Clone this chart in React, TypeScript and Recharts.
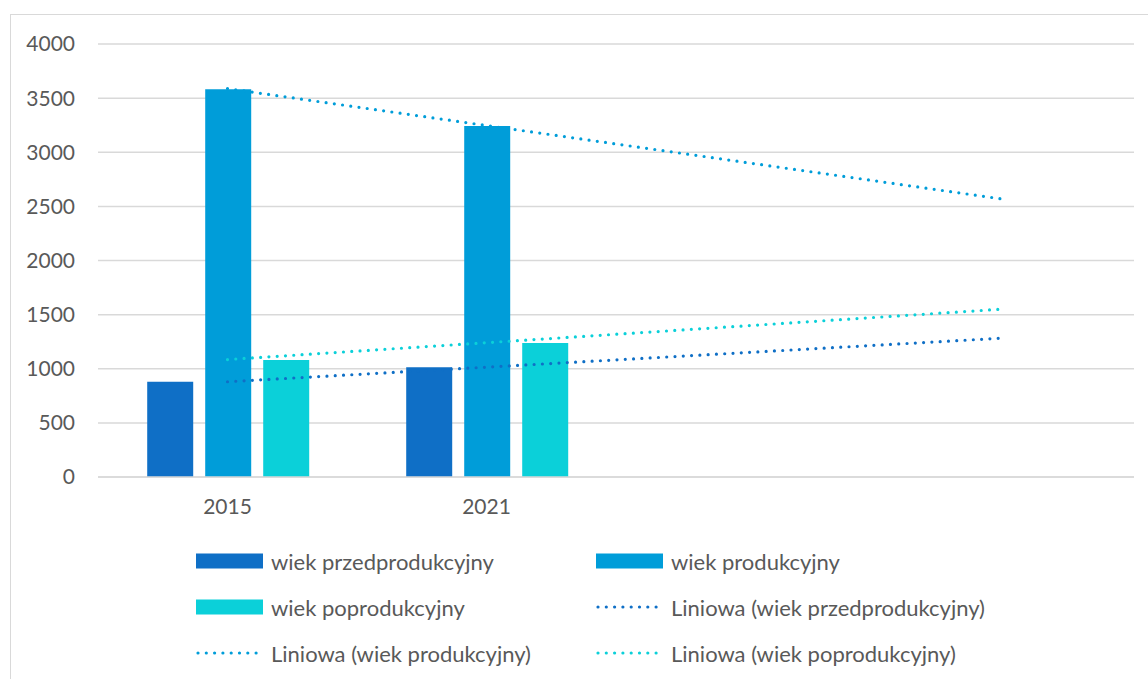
import { Bar, CartesianGrid, ComposedChart, Line, XAxis, YAxis } from "recharts";

// categories (Excel trendline forecast adds two empty periods)
const years = ["2015", "2021", "", ""];

// population by age group
const preProductive = [880, 1013, null, null];
const productive = [3582, 3242, null, null];
const postProductive = [1081, 1238, null, null];

// linear trendlines, read at first and last period
const trendPre = [880, null, null, 1284];
const trendProd = [3588, null, null, 2565];
const trendPost = [1085, null, null, 1552];

const yTicks = [0, 500, 1000, 1500, 2000, 2500, 3000, 3500, 4000];

const C_PRE = "#0F6FC6";
const C_PROD = "#009DD9";
const C_POST = "#0BD0D9";
const TEXT = "#595959";
const GRID = "#D9D9D9";
const FONT = "Lato, 'Open Sans', sans-serif";

const data = years.map((y, i) => ({
	key: `c${i}`,
	year: y,
	pre: preProductive[i],
	prod: productive[i],
	post: postProductive[i],
	tPre: trendPre[i],
	tProd: trendProd[i],
	tPost: trendPost[i],
}));

const legendItems = [
	{ label: "wiek przedprodukcyjny", color: C_PRE, kind: "bar" },
	{ label: "wiek produkcyjny", color: C_PROD, kind: "bar" },
	{ label: "wiek poprodukcyjny", color: C_POST, kind: "bar" },
	{ label: "Liniowa (wiek przedprodukcyjny)", color: C_PRE, kind: "line" },
	{ label: "Liniowa (wiek produkcyjny)", color: C_PROD, kind: "line" },
	{ label: "Liniowa (wiek poprodukcyjny)", color: C_POST, kind: "line" },
];

const DOT_W = 3.2;
const DOT_DASH = "0 8.3";

const dotted = {
	strokeWidth: DOT_W,
	strokeDasharray: DOT_DASH,
	strokeLinecap: "round" as const,
	dot: false,
	activeDot: false,
	connectNulls: true,
	isAnimationActive: false,
	type: "linear" as const,
};

const LegendBox = () => (
	<div
		style={{
			position: "absolute",
			left: 196,
			top: 546,
			display: "grid",
			gridTemplateColumns: "400px 400px",
			rowGap: 16,
			fontFamily: FONT,
			fontSize: 22,
			color: TEXT,
		}}
	>
		{legendItems.map((it) => (
			<div
				key={it.label}
				style={{ display: "flex", alignItems: "center", height: 30 }}
			>
				<svg width={67} height={16} style={{ marginRight: 8 }}>
					{it.kind === "bar" ? (
						<rect x={0} y={0.5} width={67} height={15} fill={it.color} />
					) : (
						<line
							x1={2}
							y1={8}
							x2={67}
							y2={8}
							stroke={it.color}
							strokeWidth={DOT_W}
							strokeDasharray={DOT_DASH}
							strokeLinecap="round"
						/>
					)}
				</svg>
				<span>{it.label}</span>
			</div>
		))}
	</div>
);

export default function App() {
	return (
		<div
			style={{
				position: "absolute",
				left: 0,
				top: 0,
				width: 1148,
				height: 679,
				overflow: "hidden",
				background: "#fff",
			}}
		>
			<div
				style={{
					position: "absolute",
					left: 10,
					top: 14,
					width: 1200,
					height: 800,
					border: `1.5px solid ${GRID}`,
				}}
			/>
			<div style={{ position: "absolute", left: 0, top: 0 }}>
				<ComposedChart
					width={1148}
					height={679}
					data={data}
					margin={{ top: 44, right: 14, bottom: 162, left: 0 }}
					barCategoryGap="19%"
					barGap={12}
				>
					<CartesianGrid
						vertical={false}
						stroke={GRID}
						strokeWidth={1.5}
					/>
					<XAxis
						dataKey="key"
						tickFormatter={(_, i) => years[i]}
						height={40}
						tickLine={false}
						axisLine={{ stroke: GRID, strokeWidth: 1.5 }}
						tickSize={0}
						tickMargin={22}
						tick={{ fill: TEXT, fontSize: 21, fontFamily: FONT }}
					/>
					<YAxis
						width={98}
						domain={[0, 4000]}
						ticks={yTicks}
						axisLine={false}
						tickLine={false}
						tickSize={0}
						tickMargin={23}
						tick={{ fill: TEXT, fontSize: 21, fontFamily: FONT }}
					/>
					<Bar dataKey="pre" fill={C_PRE} isAnimationActive={false} />
					<Bar dataKey="prod" fill={C_PROD} isAnimationActive={false} />
					<Bar dataKey="post" fill={C_POST} isAnimationActive={false} />
					<Line dataKey="tPre" stroke={C_PRE} {...dotted} />
					<Line dataKey="tProd" stroke={C_PROD} {...dotted} />
					<Line dataKey="tPost" stroke={C_POST} {...dotted} />
				</ComposedChart>
			</div>
			<LegendBox />
		</div>
	);
}
